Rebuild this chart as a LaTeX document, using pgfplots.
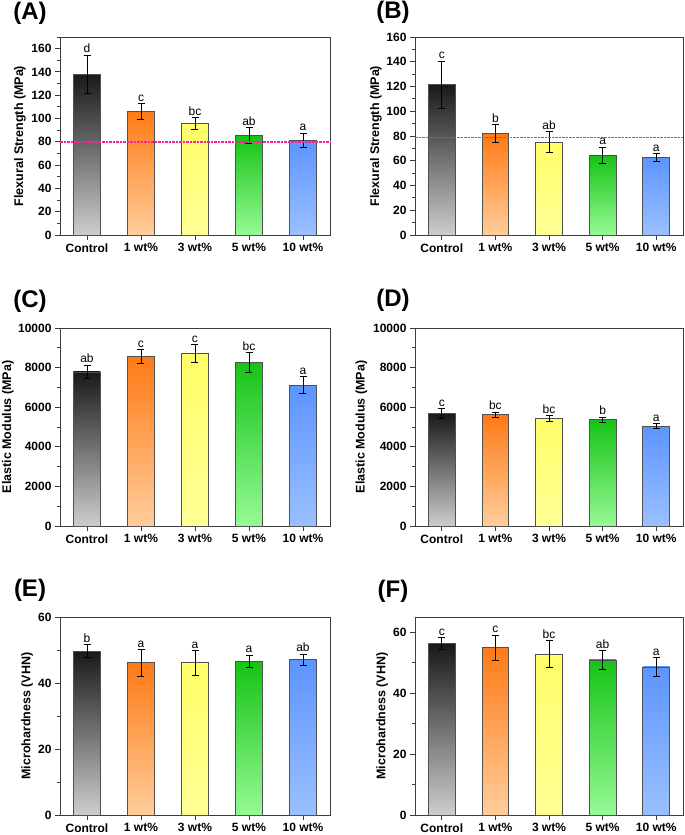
\documentclass[border=0pt]{standalone}
\usepackage{pgfplots}
\pgfplotsset{compat=1.18}
\usepackage{pgfplotstable}
\usepackage{fontspec}
\setmainfont{Liberation Sans}

\definecolor{c0T}{RGB}{25,25,25}
\definecolor{c0B}{RGB}{205,205,205}
\definecolor{c1T}{RGB}{255,122,22}
\definecolor{c1B}{RGB}{255,205,155}
\definecolor{c2T}{RGB}{255,255,105}
\definecolor{c2B}{RGB}{255,255,150}
\definecolor{c3T}{RGB}{22,195,22}
\definecolor{c3B}{RGB}{150,250,150}
\definecolor{c4T}{RGB}{92,148,255}
\definecolor{c4B}{RGB}{155,192,255}
\definecolor{axgray}{RGB}{60,60,60}
\definecolor{bargray}{RGB}{80,80,80}

% flexural strength, dry / aged
\pgfplotstableread{
x y e l
0 138 16.5 d
1 106 7 c
2 96 5 bc
3 85.5 6.5 ab
4 81.5 6 a
}\dataA
\pgfplotstableread{
x y e l
0 121.5 19 c
1 82 7 b
2 75 8.5 ab
3 64.5 6.5 a
4 62.5 3 a
}\dataB
% elastic modulus
\pgfplotstableread{
x y e l
0 7780 340 ab
1 8560 340 c
2 8710 460 c
3 8270 500 bc
4 7120 430 a
}\dataC
\pgfplotstableread{
x y e l
0 5690 250 c
1 5620 130 bc
2 5440 135 bc
3 5370 135 b
4 5050 110 a
}\dataD
% microhardness
\pgfplotstableread{
x y e l
0 49.6 2 b
1 46.1 4.1 a
2 46.1 3.7 a
3 46.5 1.9 a
4 47.0 1.8 ab
}\dataE
\pgfplotstableread{
x y e l
0 56.2 2 c
1 54.9 4.1 c
2 52.8 4.4 bc
3 50.9 3 ab
4 48.6 3 a
}\dataF

\pgfplotsset{
  panel/.style={
    scale only axis, height=198pt,
    xmin=-0.5, xmax=4.5, ymin=0,
    xtick={0,...,4},
    xticklabels={Control,1 wt\%,3 wt\%,5 wt\%,10 wt\%},
    tick align=outside, xtick pos=left, ytick pos=left,
    major tick length=5pt, minor tick length=3pt,
    axis line style={draw=axgray, line width=0.9pt},
    tick style={draw=axgray, line width=0.9pt},
    ticklabel style={font=\bfseries\fontsize{12}{12}\selectfont, text=black},
    /pgf/number format/assume math mode=true,
    /pgf/number format/1000 sep={},
    scaled y ticks=false,
    ylabel style={anchor=center, font=\bfseries\fontsize{12.5}{12.5}\selectfont},
    clip=false,
  },
  barsty/.style={ybar, bar width=0.5, bar shift=0pt, draw=bargray, line width=0.9pt},
}

\newcommand{\drawbars}[1]{%
  \addplot[barsty, top color=c0T, bottom color=c0B, restrict x to domain=0:0] table[x=x,y=y] {#1};
  \addplot[barsty, top color=c1T, bottom color=c1B, restrict x to domain=1:1] table[x=x,y=y] {#1};
  \addplot[barsty, top color=c2T, bottom color=c2B, restrict x to domain=2:2] table[x=x,y=y] {#1};
  \addplot[barsty, top color=c3T, bottom color=c3B, restrict x to domain=3:3] table[x=x,y=y] {#1};
  \addplot[barsty, top color=c4T, bottom color=c4B, restrict x to domain=4:4] table[x=x,y=y] {#1};
  \addplot[draw=none, mark=none,
    error bars/.cd, y dir=both, y explicit,
    error bar style={draw=black, line width=0.9pt, solid},
    error mark options={rotate=90, draw=black, line width=0.9pt, mark size=3.5pt}]
    table[x=x, y=y, y error=e] {#1};
  \addplot[draw=none, mark=none, nodes near coords, point meta=explicit symbolic,
    nodes near coords style={anchor=south, inner sep=2pt, text=black,
      font=\fontsize{12}{12}\selectfont}]
    table[x=x, y expr=\thisrow{y}+\thisrow{e}, meta=l] {#1};
}

\begin{document}
\begin{tikzpicture}
\useasboundingbox (0pt,0pt) rectangle (685pt,835pt);

\begin{axis}[panel, at={(60pt,600pt)}, anchor=south west, width=270pt,
  ymax=170, ytick={0,20,...,160}, minor ytick={10,30,...,170},
  ylabel={Flexural Strength (MPa)},
  ylabel style={at={(axis description cs:-0.148,0.5)}}]
\drawbars{\dataA}
\addplot[draw={rgb,255:red,255;green,30;blue,150}, line width=1.4pt,
  dash pattern=on 2.5pt off 1pt, mark=none] coordinates {(-0.5,80) (4.5,80)};
\end{axis}

\begin{axis}[panel, at={(415pt,600pt)}, anchor=south west, width=268pt,
  ymax=160, ytick={0,20,...,160}, minor ytick={10,30,...,150},
  ylabel={Flexural Strength (MPa)},
  ylabel style={at={(axis description cs:-0.146,0.5)}}]
\drawbars{\dataB}
\addplot[draw={rgb,255:red,254;green,32;blue,152}, line width=1.4pt,
  dash pattern=on 2.5pt off 1pt, mark=none] coordinates {(-0.5,79) (4.5,79)};
\end{axis}

\begin{axis}[panel, at={(60pt,309pt)}, anchor=south west, width=270pt,
  ymax=10000, ytick={0,2000,...,10000}, minor ytick={1000,3000,...,9000},
  ylabel={Elastic Modulus (MPa)},
  ylabel style={at={(axis description cs:-0.193,0.5)}}]
\drawbars{\dataC}
\end{axis}

\begin{axis}[panel, at={(415pt,309pt)}, anchor=south west, width=268pt,
  ymax=10000, ytick={0,2000,...,10000}, minor ytick={1000,3000,...,9000},
  ylabel={Elastic Modulus (MPa)},
  ylabel style={at={(axis description cs:-0.2,0.5)}}]
\drawbars{\dataD}
\end{axis}

\begin{axis}[panel, at={(60pt,20pt)}, anchor=south west, width=270pt,
  ymax=60, ytick={0,20,40,60}, minor ytick={10,30,50},
  ylabel={Microhardness (VHN)},
  ylabel style={at={(axis description cs:-0.122,0.5)}}]
\drawbars{\dataE}
\end{axis}

\begin{axis}[panel, at={(415pt,20pt)}, anchor=south west, width=268pt,
  ymax=65, ytick={0,20,40,60}, minor ytick={10,30,50},
  ylabel={Microhardness (VHN)},
  ylabel style={at={(axis description cs:-0.123,0.5)}}]
\drawbars{\dataF}
\end{axis}

\begin{scope}[every node/.style={font=\bfseries\fontsize{24}{24}\selectfont}]
\node at (30pt,822pt) {(A)};
\node at (393pt,823pt) {(B)};
\node at (30pt,534pt) {(C)};
\node at (393pt,535pt) {(D)};
\node at (30pt,245pt) {(E)};
\node at (393pt,244pt) {(F)};
\end{scope}
\end{tikzpicture}
\end{document}
